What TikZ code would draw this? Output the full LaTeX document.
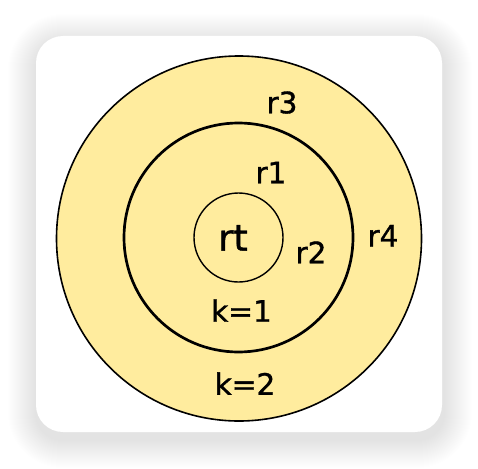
\documentclass[tikz,border=0pt]{standalone}
\usepackage{fontspec}
\setmainfont{DejaVu Sans}
\newfontfamily\lblfont[FakeBold=1.2]{DejaVu Sans}
\definecolor{ringfill}{RGB}{255,236,158}
\tikzset{
  card/.style={fill=white, rounded corners=27pt},
  shadowlayer/.style={fill=black, fill opacity=0.005},
  ring/.style={circle, draw=black, inner sep=0pt},
  lbl/.style={anchor=base, inner sep=0pt, font=\lblfont\fontsize{29.5}{34}\selectfont},
  biglbl/.style={anchor=base, inner sep=0pt, font=\lblfont\fontsize{36.5}{40}\selectfont}
}
\begin{document}
\begin{tikzpicture}[x=1pt,y=-1pt]
\useasboundingbox (0,0) rectangle (478,468);
\foreach \i in {1,...,28}{
  \path[shadowlayer, rounded corners={(27+\i)*1pt}] ({36-\i},{42-\i}) rectangle ({444+\i},{440+\i});
}
\path[card] (36,36) rectangle (442,432);
\node[ring, fill=ringfill, line width=1.6pt, minimum size=365pt] (outer) at (239,238.5) {};
\node[ring, line width=2.7pt, minimum size=229pt] (middle) at (238.5,237.5) {};
\node[ring, line width=1.4pt, minimum size=89pt] (inner) at (238.5,237.5) {};
\node[biglbl] (rt) at (233,250.7) {rt};
\node[lbl] (r3) at (282,113.3) {r3};
\node[lbl] (r1) at (271,183.3) {r1};
\node[lbl] (r2) at (311,263.3) {r2};
\node[lbl] (r4) at (383,246.5) {r4};
\node[lbl] (k1) at (241.5,321.7) {k=1};
\node[lbl] (k2) at (245,394.8) {k=2};
\end{tikzpicture}
\end{document}
